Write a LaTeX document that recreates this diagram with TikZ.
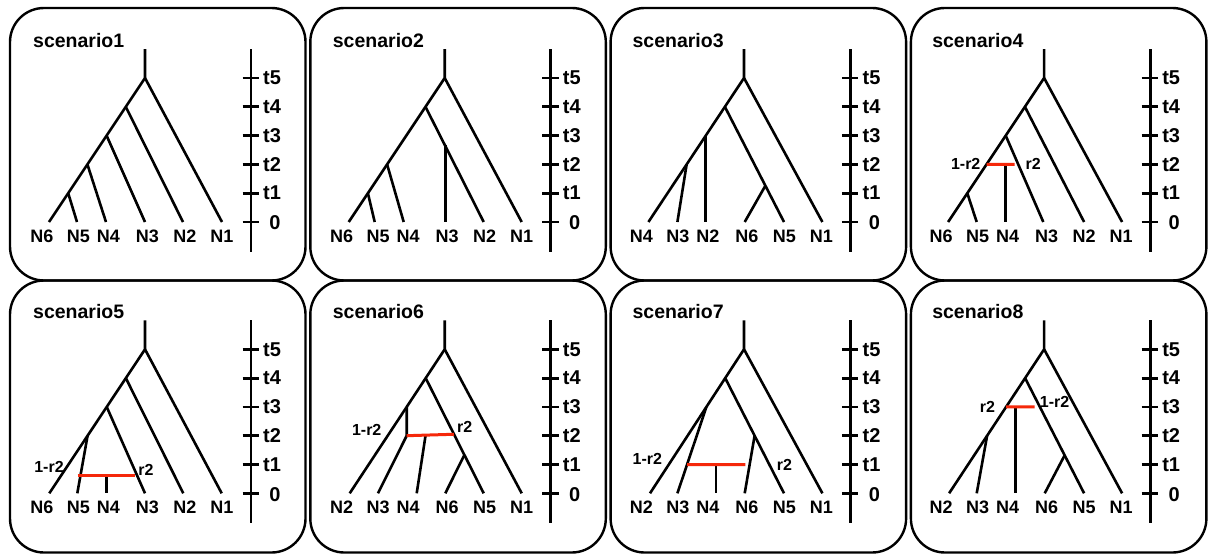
\documentclass[tikz,border=0pt]{standalone}
\usepackage{fontspec}
\setmainfont{Liberation Sans}
\usetikzlibrary{calc}
\definecolor{hyb}{RGB}{245,40,10}
\newcommand\T[1]{{222-28.8*(#1)}}
\tikzset{
 br/.style={line width=2.6pt, line join=round},
 hy/.style={line width=3pt, draw=hyb},
 ax/.style={line width=2.8pt},
 frame/.style={line width=2.4pt, rounded corners=34pt},
 leaf/.style={font=\fontsize{18}{18}\selectfont\bfseries, inner sep=0pt},
 ttl/.style={font=\fontsize{19.5}{19.5}\selectfont\bfseries, inner sep=0pt, anchor=base west},
 tlab/.style={font=\fontsize{20}{20}\selectfont\bfseries, inner sep=0pt},
 rlab/.style={font=\fontsize{16}{16}\selectfont\bfseries, inner sep=0pt},
}
\newcommand\pframe[2]{%
  \node[ttl] (#1ttl) at (33,47.5) {#2};
  \coordinate (#1ax0) at (251,49);
  \coordinate (#1ax1) at (251,251.5);
  \draw[ax] (#1ax0) -- (#1ax1);
  \foreach \k in {0,...,5}{
    \coordinate (#1k\k) at (251,\T{\k});
    \draw[ax] ([xshift=-8.5pt]#1k\k) -- ([xshift=8pt]#1k\k);
  }
  \foreach \k in {1,...,5}{\node[tlab,anchor=west] (#1tl\k) at ([xshift=12pt]#1k\k) {t\k};}
  \node[tlab] (#1tl0) at ([xshift=24pt,yshift=-1pt]#1k0) {0};
}
\newcommand\leaflabels[7]{%
  \node[leaf] (#1L1) at (42,236) {#2};
  \node[leaf] (#1L2) at (78.5,236) {#3};
  \node[leaf] (#1L3) at (108.5,236) {#4};
  \node[leaf] (#1L4) at (147.5,236) {#5};
  \node[leaf] (#1L5) at (185,236) {#6};
  \node[leaf] (#1L6) at (222,236) {#7};
}
\begin{document}
\begin{tikzpicture}[x=1pt,y=-1pt]
\useasboundingbox (0,0) rectangle (1209,554);
\fill[white] (0,0) rectangle (1209,554);
% frames
\foreach \i in {0,...,3}{
  \draw[frame] ({10+300.3*\i},8) rectangle ({305.5+300.3*\i},280.5);
  \draw[frame] ({10+300.3*\i},280.5) rectangle ({305.5+300.3*\i},552.5);
}
% ---------------- scenario1
\begin{scope}
\pframe{a}{scenario1}
\coordinate (aTop) at (145,49);
\coordinate (aR) at (145,\T5);
\coordinate (aN6) at (49,\T0);
\coordinate (aN5) at (77,\T0);
\coordinate (aN4) at (106,\T0);
\coordinate (aN3) at (145,\T0);
\coordinate (aN2) at (183,\T0);
\coordinate (aN1) at (222,\T0);
\coordinate (a4) at ($(aR)!0.2!(aN6)$);
\coordinate (a3) at ($(aR)!0.4!(aN6)$);
\coordinate (a2) at ($(aR)!0.6!(aN6)$);
\coordinate (a1) at ($(aR)!0.8!(aN6)$);
\draw[br] (aTop) -- (aR) -- (aN6);
\draw[br] (aR) -- (aN1);
\draw[br] (a4) -- (aN2);
\draw[br] (a3) -- (aN3);
\draw[br] (a2) -- (aN4);
\draw[br] (a1) -- (aN5);
\leaflabels{a}{N6}{N5}{N4}{N3}{N2}{N1}
\end{scope}
% ---------------- scenario2
\begin{scope}[shift={(299.7,0)}]
\pframe{b}{scenario2}
\coordinate (bTop) at (145,49);
\coordinate (bR) at (145,\T5);
\coordinate (bN6) at (49,\T0);
\coordinate (bN5) at (75,\T0);
\coordinate (bN4) at (104,\T0);
\coordinate (bN3) at (145.6,\T0);
\coordinate (bN2) at (184,\T0);
\coordinate (bN1) at (222,\T0);
\coordinate (b3) at (145.6,145);
\coordinate (b4) at ($(bR)!0.2!(bN6)$);
\coordinate (b2) at ($(bR)!0.6!(bN6)$);
\coordinate (b1) at ($(bR)!0.8!(bN6)$);
\draw[br] (bTop) -- (bR) -- (bN6);
\draw[br] (bR) -- (bN1);
\draw[br] (b4) -- (bN2);
\draw[br] (b3) -- (bN3);
\draw[br] (b2) -- (bN4);
\draw[br] (b1) -- (bN5);
\leaflabels{b}{N6}{N5}{N4}{N3}{N2}{N1}
\end{scope}
% ---------------- scenario3
\begin{scope}[shift={(599.4,0)}]
\pframe{c}{scenario3}
\coordinate (cTop) at (144.6,49);
\coordinate (cR) at (144.6,\T5);
\coordinate (cN4) at (49,\T0);
\coordinate (cN3) at (78,\T0);
\coordinate (cN6) at (145.3,\T0);
\coordinate (cN5) at (184.6,\T0);
\coordinate (cN1) at (223,\T0);
\coordinate (c4) at ($(cR)!0.2!(cN4)$);
\coordinate (c3) at ($(cR)!0.4!(cN4)$);
\coordinate (c2) at ($(cR)!0.6!(cN4)$);
\coordinate (cN2) at (c3 |- cN4);
\coordinate (c1) at ($(c4)!0.685!(cN5)$);
\draw[br] (cTop) -- (cR) -- (cN4);
\draw[br] (cR) -- (cN1);
\draw[br] (c4) -- (cN5);
\draw[br] (c3) -- (cN2);
\draw[br] (c2) -- (cN3);
\draw[br] (c1) -- (cN6);
\leaflabels{c}{N4}{N3}{N2}{N6}{N5}{N1}
\end{scope}
% ---------------- scenario4
\begin{scope}[shift={(899.1,0)}]
\pframe{d}{scenario4}
\coordinate (dTop) at (145,49);
\coordinate (dR) at (145,\T5);
\coordinate (dN6) at (49,\T0);
\coordinate (dN5) at (77.6,\T0);
\coordinate (dN4) at (106.6,\T0);
\coordinate (dN3) at (144.2,\T0);
\coordinate (dN2) at (185,\T0);
\coordinate (dN1) at (223,\T0);
\coordinate (d4) at ($(dR)!0.2!(dN6)$);
\coordinate (d3) at ($(dR)!0.4!(dN6)$);
\coordinate (d2) at ($(dR)!0.6!(dN6)$);
\coordinate (d1) at ($(dR)!0.8!(dN6)$);
\coordinate (dhR) at (115.6,\T2);
\coordinate (dhM) at (dN4 |- dhR);
\draw[br] (dTop) -- (dR) -- (dN6);
\draw[br] (dR) -- (dN1);
\draw[br] (d4) -- (dN2);
\draw[br] (d3) -- (dN3);
\draw[br] (d1) -- (dN5);
\draw[br] (dhM) -- (dN4);
\draw[hy] (d2) -- (dhR);
\node[rlab] (dr1) at (66.6,\T2) {1-r2};
\node[rlab] (dr2) at (134,\T2) {r2};
\leaflabels{d}{N6}{N5}{N4}{N3}{N2}{N1}
\end{scope}
% ---------------- scenario5
\begin{scope}[shift={(0,271.3)}]
\pframe{e}{scenario5}
\coordinate (eTop) at (145,49);
\coordinate (eR) at (145,\T5);
\coordinate (eN6) at (49.3,\T0);
\coordinate (eN5) at (77.3,\T0);
\coordinate (eN4) at (106.7,\T0);
\coordinate (eN3) at (145,\T0);
\coordinate (eN2) at (183.3,\T0);
\coordinate (eN1) at (221.7,\T0);
\coordinate (e4) at ($(eR)!0.2!(eN6)$);
\coordinate (e3) at ($(eR)!0.4!(eN6)$);
\coordinate (e2) at ($(eR)!0.6!(eN6)$);
\coordinate (ehL) at (77.7,\T{0.63});
\coordinate (ehR) at (135,\T{0.63});
\coordinate (ehM) at (eN4 |- ehL);
\draw[br] (eTop) -- (eR) -- (eN6);
\draw[br] (eR) -- (eN1);
\draw[br] (e4) -- (eN2);
\draw[br] (e3) -- (eN3);
\draw[br] (e2) -- (eN5);
\draw[br] (ehM) -- (eN4);
\draw[hy] (ehL) -- (ehR);
\node[rlab] (er1) at (49,\T{0.92}) {1-r2};
\node[rlab] (er2) at (146,\T{0.81}) {r2};
\leaflabels{e}{N6}{N5}{N4}{N3}{N2}{N1}
\end{scope}
% ---------------- scenario6
\begin{scope}[shift={(299.7,271.3)}]
\pframe{f}{scenario6}
\coordinate (fTop) at (145,49);
\coordinate (fR) at (145,\T5);
\coordinate (fN2) at (50,\T0);
\coordinate (fN3) at (78.3,\T0);
\coordinate (fN4) at (117,\T0);
\coordinate (fN6) at (145.6,\T0);
\coordinate (fN5) at (184,\T0);
\coordinate (fN1) at (222,\T0);
\coordinate (f4) at ($(fR)!0.2!(fN2)$);
\coordinate (f3) at ($(fR)!0.4!(fN2)$);
\coordinate (f2) at (f3 |- 0,\T2);
\coordinate (f1) at ($(f4)!0.667!(fN5)$);
\coordinate (fhR) at ($(f4)!0.4875!(fN5)$);
\coordinate (fhM) at ($(f2)!0.4!(fhR)$);
\draw[br] (fTop) -- (fR) -- (fN2);
\draw[br] (fR) -- (fN1);
\draw[br] (f4) -- (fN5);
\draw[br] (f3) -- (f2) -- (fN3);
\draw[br] (f1) -- (fN6);
\draw[br] (fhM) -- (fN4);
\draw[hy] (f2) -- (fhR);
\node[rlab] (fr1) at (67,\T{2.2}) {1-r2};
\node[rlab] (fr2) at (165,\T{2.31}) {r2};
\leaflabels{f}{N2}{N3}{N4}{N6}{N5}{N1}
\end{scope}
% ---------------- scenario7
\begin{scope}[shift={(599.4,271.3)}]
\pframe{g}{scenario7}
\coordinate (gTop) at (144.6,49);
\coordinate (gR) at (144.6,\T5);
\coordinate (gN2) at (50.6,\T0);
\coordinate (gN3) at (78,\T0);
\coordinate (gN4) at (116.4,\T0);
\coordinate (gN6) at (145.3,\T0);
\coordinate (gN5) at (184.6,\T0);
\coordinate (gN1) at (223,\T0);
\coordinate (g4) at ($(gR)!0.2!(gN2)$);
\coordinate (g3) at ($(gR)!0.4!(gN2)$);
\coordinate (g2) at ($(g4)!0.5!(gN5)$);
\coordinate (ghL) at ($(g3)!0.667!(gN3)$);
\coordinate (ghR) at (146,\T1);
\coordinate (ghM) at (gN4 |- ghL);
\draw[br] (gTop) -- (gR) -- (gN2);
\draw[br] (gR) -- (gN1);
\draw[br] (g4) -- (gN5);
\draw[br] (g3) -- (gN3);
\draw[br] (g2) -- (gN6);
\draw[br] (ghM) -- (gN4);
\draw[hy] (ghL) -- (ghR);
\node[rlab] (gr1) at (48,\T{1.18}) {1-r2};
\node[rlab] (gr2) at (185,\T{0.98}) {r2};
\leaflabels{g}{N2}{N3}{N4}{N6}{N5}{N1}
\end{scope}
% ---------------- scenario8
\begin{scope}[shift={(899.1,271.3)}]
\pframe{h}{scenario8}
\coordinate (hTop) at (145,49);
\coordinate (hR) at (145,\T5);
\coordinate (hN2) at (50,\T0);
\coordinate (hN3) at (77.6,\T0);
\coordinate (hN4) at (116.6,\T0);
\coordinate (hN6) at (145.6,\T0);
\coordinate (hN5) at (185,\T0);
\coordinate (hN1) at (223,\T0);
\coordinate (h4) at ($(hR)!0.2!(hN2)$);
\coordinate (h3) at ($(hR)!0.4!(hN2)$);
\coordinate (h2) at ($(hR)!0.6!(hN2)$);
\coordinate (h1) at ($(h4)!0.67!(hN5)$);
\coordinate (hhR) at (135.6,\T3);
\coordinate (hhM) at (hN4 |- hhR);
\draw[br] (hTop) -- (hR) -- (hN2);
\draw[br] (hR) -- (hN1);
\draw[br] (h4) -- (hN5);
\draw[br] (h2) -- (hN3);
\draw[br] (h1) -- (hN6);
\draw[br] (hhM) -- (hN4);
\draw[hy] (h3) -- (hhR);
\node[rlab] (hr1) at (88.3,\T{3.0}) {r2};
\node[rlab] (hr2) at (155.5,\T{3.16}) {1-r2};
\leaflabels{h}{N2}{N3}{N4}{N6}{N5}{N1}
\end{scope}
\end{tikzpicture}
\end{document}
